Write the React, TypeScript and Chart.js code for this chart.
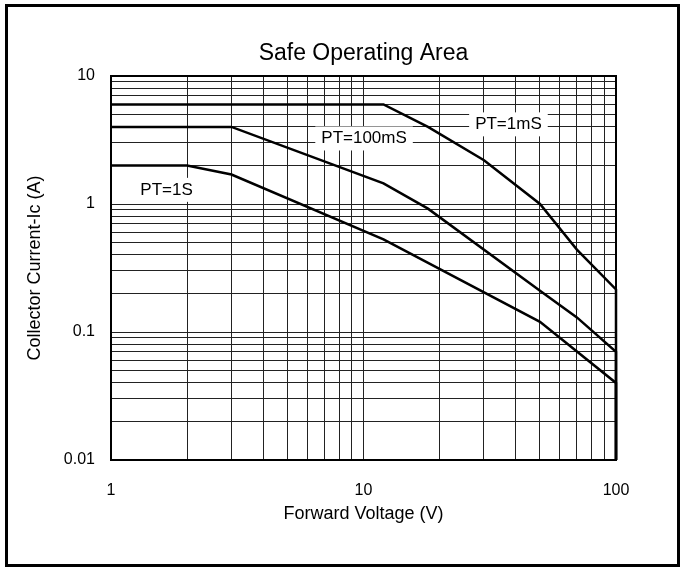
import { useEffect, useRef } from 'react';
import { Chart, registerables } from 'chart.js';

Chart.register(...registerables);

const FONT = "'Liberation Sans', Arial, Helvetica, sans-serif";

// Pulse-width limited curves: forward voltage (V) and collector current (A)
const pt1msVoltage = [1, 12, 18, 30, 50, 70, 100, 100];
const pt1msCurrent = [6, 6, 4, 2.2, 1, 0.44, 0.215, 0.01];

const pt100msVoltage = [1, 3, 12, 18, 50, 70, 100, 100];
const pt100msCurrent = [4, 4, 1.45, 0.92, 0.21, 0.13, 0.07, 0.01];

const pt1sVoltage = [1, 2, 3, 12, 50, 100, 100];
const pt1sCurrent = [2, 2, 1.7, 0.53, 0.12, 0.04, 0.01];

// Grid lines (every decade step) and the labelled ticks
const xGridValues = [1, 2, 3, 4, 5, 6, 7, 8, 9, 10, 20, 30, 40, 50, 60, 70, 80, 90, 100];
const yGridValues = [
  0.01, 0.02, 0.03, 0.04, 0.05, 0.06, 0.07, 0.08, 0.09,
  0.1, 0.2, 0.3, 0.4, 0.5, 0.6, 0.7, 0.8, 0.9,
  1, 2, 3, 4, 5, 6, 7, 8, 9, 10,
];
const xTickLabels = [1, 10, 100];
const yTickLabels = [0.01, 0.1, 1, 10];

// Curve captions, anchored in data units (voltage, current)
const curveCaptions = [
  { text: 'PT=1S', voltage: 1.66, current: 1.29 },
  { text: 'PT=100mS', voltage: 10.05, current: 3.25 },
  { text: 'PT=1mS', voltage: 37.5, current: 4.19 },
];

const toPoints = (xs: number[], ys: number[]) => xs.map((x, i) => ({ x, y: ys[i] }));

const framePlugin = {
  id: 'plotFrameAndCaptions',
  beforeDatasetsDraw(chart: any) {
    const { ctx, chartArea, scales } = chart;
    ctx.save();
    ctx.strokeStyle = '#000';
    ctx.lineWidth = 2;
    ctx.strokeRect(chartArea.left, chartArea.top, chartArea.right - chartArea.left, chartArea.bottom - chartArea.top);

    ctx.font = `17px ${FONT}`;
    ctx.textAlign = 'center';
    ctx.textBaseline = 'middle';
    for (const c of curveCaptions) {
      const x = scales.x.getPixelForValue(c.voltage);
      const y = scales.y.getPixelForValue(c.current);
      const w = ctx.measureText(c.text).width + 12;
      const h = 24;
      ctx.fillStyle = '#fff';
      ctx.fillRect(x - w / 2, y - h / 2, w, h);
      ctx.fillStyle = '#000';
      ctx.fillText(c.text, x, y);
    }
    ctx.restore();
  },
};

export default function App() {
  const canvasRef = useRef<HTMLCanvasElement>(null);

  useEffect(() => {
    const canvas = canvasRef.current;
    if (!canvas) return;

    const lineStyle = {
      showLine: true,
      borderColor: '#000',
      backgroundColor: '#000',
      borderWidth: 2.5,
      pointRadius: 0,
      tension: 0,
      fill: false,
      clip: false as const,
    };

    const chart = new Chart(canvas, {
      type: 'scatter',
      data: {
        datasets: [
          { label: 'PT=1mS', data: toPoints(pt1msVoltage, pt1msCurrent), ...lineStyle },
          { label: 'PT=100mS', data: toPoints(pt100msVoltage, pt100msCurrent), ...lineStyle },
          { label: 'PT=1S', data: toPoints(pt1sVoltage, pt1sCurrent), ...lineStyle },
        ],
      },
      options: {
        responsive: false,
        animation: false,
        devicePixelRatio: 1,
        layout: { padding: { top: 0, right: 68, bottom: 0, left: 0 } },
        plugins: {
          legend: { display: false },
          tooltip: { enabled: false },
          title: {
            display: true,
            fullSize: false,
            text: 'Safe Operating Area',
            color: '#000',
            font: { family: FONT, size: 23, weight: 'normal' },
            padding: { top: 40.2, bottom: 8.2 },
          },
        },
        scales: {
          x: {
            type: 'logarithmic',
            position: 'bottom',
            min: 1,
            max: 100,
            afterBuildTicks: (s: any) => {
              s.ticks = xGridValues.map((value) => ({ value }));
            },
            afterFit: (s: any) => {
              s.height = 110;
            },
            ticks: {
              autoSkip: false,
              maxRotation: 0,
              padding: 21.4,
              color: '#000',
              font: { family: FONT, size: 16 },
              callback: (v: any) => (xTickLabels.includes(Number(v)) ? String(v) : ''),
            },
            grid: { color: '#222', lineWidth: 1, drawTicks: false },
            border: { display: false },
            title: {
              display: true,
              text: 'Forward Voltage (V)',
              color: '#000',
              font: { family: FONT, size: 18 },
              padding: { top: 0, bottom: 45.2 },
            },
          },
          y: {
            type: 'logarithmic',
            position: 'left',
            min: 0.01,
            max: 10,
            afterBuildTicks: (s: any) => {
              s.ticks = yGridValues.map((value) => ({ value }));
            },
            afterFit: (s: any) => {
              s.width = 111;
            },
            ticks: {
              autoSkip: false,
              padding: 16,
              color: '#000',
              font: { family: FONT, size: 16 },
              callback: (v: any) => (yTickLabels.includes(Number(v)) ? String(v) : ''),
            },
            grid: { color: '#222', lineWidth: 1, drawTicks: false },
            border: { display: false },
            title: {
              display: true,
              text: 'Collector Current-Ic (A)',
              color: '#000',
              font: { family: FONT, size: 18 },
              padding: { top: 24.2, bottom: 0 },
            },
          },
        },
      },
      plugins: [framePlugin],
    });

    return () => chart.destroy();
  }, []);

  return (
    <div style={{ position: 'fixed', left: 0, top: 0, width: 684, height: 570, background: '#fff' }}>
      <canvas ref={canvasRef} width={684} height={570} style={{ display: 'block', width: 684, height: 570 }} />
      <div
        style={{
          position: 'absolute',
          left: 5,
          top: 4,
          width: 675,
          height: 563,
          border: '3px solid #000',
          boxSizing: 'border-box',
          pointerEvents: 'none',
        }}
      />
    </div>
  );
}
